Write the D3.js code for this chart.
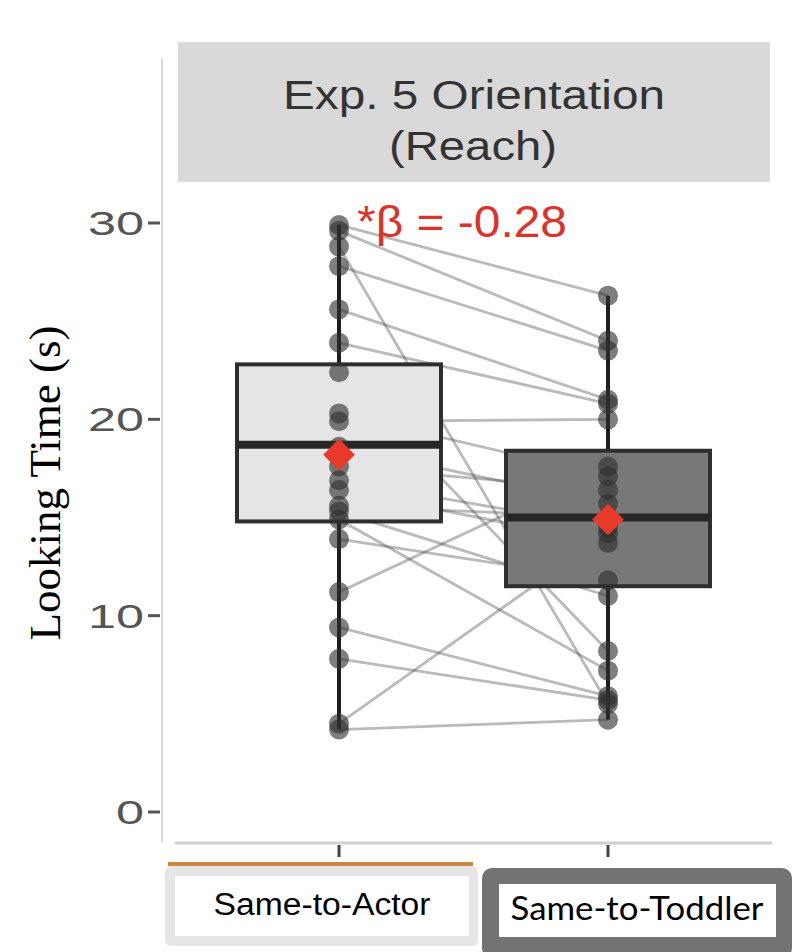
<!DOCTYPE html>
<html>
<head>
<meta charset="utf-8">
<script src="https://cdn.jsdelivr.net/npm/d3@7"></script>
<style>
  body { margin: 0; background: #fff; }
  svg { display: block; }
</style>
</head>
<body>
<svg id="chart"></svg>
<script>
// conditions on the x axis
const groups = ["Same-to-Actor", "Same-to-Toddler"];

// looking times per toddler (s), paired by index
const actorTimes   = [29.9, 29.6, 28.8, 27.8, 25.6, 23.9, 22.4, 20.3, 19.9, 18.6, 17.6,
                      16.9, 16.4, 15.3, 14.9, 13.9, 11.2, 9.4, 7.8, 4.5, 4.2, 15.6];
const toddlerTimes = [26.3, 24.0, 5.5, 23.5, 21.0, 20.8, 8.2, 17.1, 20.0, 15.7, 16.4,
                      14.5, 13.7, 11.0, 7.2, 11.8, 17.6, 5.9, 5.7, 14.2, 4.7, 15.0];

// box summaries
const q1Values     = [14.8, 11.5];
const medianValues = [18.7, 15.0];
const q3Values     = [22.8, 18.4];
const whiskerLow   = [4.2, 4.7];
const whiskerHigh  = [29.9, 26.3];
const meanValues   = [18.2, 14.9];

const yTicks = [0, 10, 20, 30];
const stripLines = ["Exp. 5 Orientation", "(Reach)"];
const betaLabel = "*\u03b2 = -0.28";
const yTitle = "Looking Time (s)";

const width = 798, height = 952;
const svg = d3.select("#chart").attr("width", width).attr("height", height);

const panel = {left: 178, right: 770, top: 58, bottom: 842};

const x = d3.scalePoint().domain(groups).range([339, 608]);
const y = d3.scaleLinear().domain([0, 30]).range([812, 223]);
const boxW = 204;

const boxFill = ["#e5e5e5", "#787878"];

// text helper; textLength stretches glyphs to the widths seen in the figure
function label(g, txt, px, py, opts) {
  const t = g.append("text")
    .attr("x", px).attr("y", py)
    .attr("text-anchor", opts.anchor || "middle")
    .attr("font-family", opts.family || "'Liberation Sans', Arial, sans-serif")
    .attr("font-size", opts.size)
    .attr("fill", opts.fill || "#000")
    .text(txt);
  if (opts.len) t.attr("textLength", opts.len).attr("lengthAdjust", "spacingAndGlyphs");
  return t;
}

// strip
svg.append("rect")
  .attr("x", panel.left).attr("y", 42)
  .attr("width", panel.right - panel.left).attr("height", 140)
  .attr("fill", "#d9d9d9");
label(svg, stripLines[0], 474, 109, {size: 40, fill: "#333", len: 382});
label(svg, stripLines[1], 473, 160, {size: 40, fill: "#333", len: 168});

// axes lines
svg.append("line")
  .attr("x1", 162).attr("x2", 162).attr("y1", 58).attr("y2", 842)
  .attr("stroke", "#dcdcdc").attr("stroke-width", 2);
svg.append("line")
  .attr("x1", 175).attr("x2", 772).attr("y1", 843).attr("y2", 843)
  .attr("stroke", "#d0d0d0").attr("stroke-width", 3);

// y axis ticks + labels
const yAxis = svg.append("g");
yTicks.forEach(v => {
  yAxis.append("line")
    .attr("x1", 148).attr("x2", 160).attr("y1", y(v)).attr("y2", y(v))
    .attr("stroke", "#555").attr("stroke-width", 3);
  label(yAxis, String(v), 144, y(v) + 12, {size: 34, fill: "#555", anchor: "end",
    len: String(v).length * 28});
});

// x ticks
groups.forEach(gname => {
  svg.append("line")
    .attr("x1", x(gname)).attr("x2", x(gname)).attr("y1", 845).attr("y2", 857)
    .attr("stroke", "#444").attr("stroke-width", 3);
});

// y title
svg.append("text")
  .attr("transform", `translate(60,483) rotate(-90)`)
  .attr("text-anchor", "middle")
  .attr("font-family", "'Liberation Serif', 'Times New Roman', serif")
  .attr("font-size", 45)
  .attr("fill", "#000")
  .text(yTitle);

// boxes with whiskers
const boxes = svg.append("g");
groups.forEach((gname, i) => {
  const cx = x(gname);
  boxes.append("line")
    .attr("x1", cx).attr("x2", cx)
    .attr("y1", y(whiskerHigh[i])).attr("y2", y(whiskerLow[i]))
    .attr("stroke", "#1e1e1e").attr("stroke-width", 4);
  boxes.append("rect")
    .attr("x", cx - boxW / 2).attr("width", boxW)
    .attr("y", y(q3Values[i])).attr("height", y(q1Values[i]) - y(q3Values[i]))
    .attr("fill", boxFill[i]).attr("stroke", "#2e2e2e").attr("stroke-width", 4);
});

// paired lines
const pairs = actorTimes.map((a, i) => [a, toddlerTimes[i]]);
svg.append("g").selectAll("line").data(pairs).join("line")
  .attr("x1", x(groups[0])).attr("x2", x(groups[1]))
  .attr("y1", d => y(d[0])).attr("y2", d => y(d[1]))
  .attr("stroke", "#4a4a4a").attr("stroke-opacity", 0.38).attr("stroke-width", 2.8);

// medians drawn over lines
groups.forEach((gname, i) => {
  const cx = x(gname);
  boxes.append("line")
    .attr("x1", cx - boxW / 2).attr("x2", cx + boxW / 2)
    .attr("y1", y(medianValues[i])).attr("y2", y(medianValues[i]))
    .attr("stroke", "#262626").attr("stroke-width", 8);
});
svg.node().appendChild(boxes.node());

// points
const pts = svg.append("g");
[actorTimes, toddlerTimes].forEach((arr, i) => {
  pts.selectAll(null).data(arr).join("circle")
    .attr("cx", x(groups[i])).attr("cy", d => y(d)).attr("r", 10)
    .attr("fill", "#2e2e2e").attr("fill-opacity", 0.62);
});

// means
const diamond = d3.symbol().type(d3.symbolSquare).size(500);
svg.append("g").selectAll("path").data(meanValues).join("path")
  .attr("d", diamond)
  .attr("transform", (d, i) => `translate(${x(groups[i])},${y(d)}) rotate(45)`)
  .attr("fill", "#e8392a");

// beta annotation
label(svg, betaLabel, 462, 237, {size: 45, fill: "#e0302a", len: 210});

// condition label boxes
svg.append("rect").attr("x", 168).attr("y", 862).attr("width", 305).attr("height", 4)
  .attr("fill", "#c98a3f");
svg.append("rect").attr("x", 165).attr("y", 866).attr("width", 313).attr("height", 80)
  .attr("rx", 6).attr("fill", "#e6e6e6");
svg.append("rect").attr("x", 175).attr("y", 876).attr("width", 294).attr("height", 60)
  .attr("fill", "#fff");
label(svg, groups[0], 322, 915, {size: 31, len: 217});

svg.append("rect").attr("x", 482).attr("y", 868).attr("width", 310).attr("height", 90)
  .attr("rx", 10).attr("fill", "#737373");
svg.append("rect").attr("x", 499).attr("y", 884).attr("width", 277).attr("height", 53)
  .attr("fill", "#fff");
label(svg, groups[1], 637, 920, {size: 32, len: 253,
  family: "Lato, 'Open Sans', sans-serif"});
</script>
</body>
</html>
